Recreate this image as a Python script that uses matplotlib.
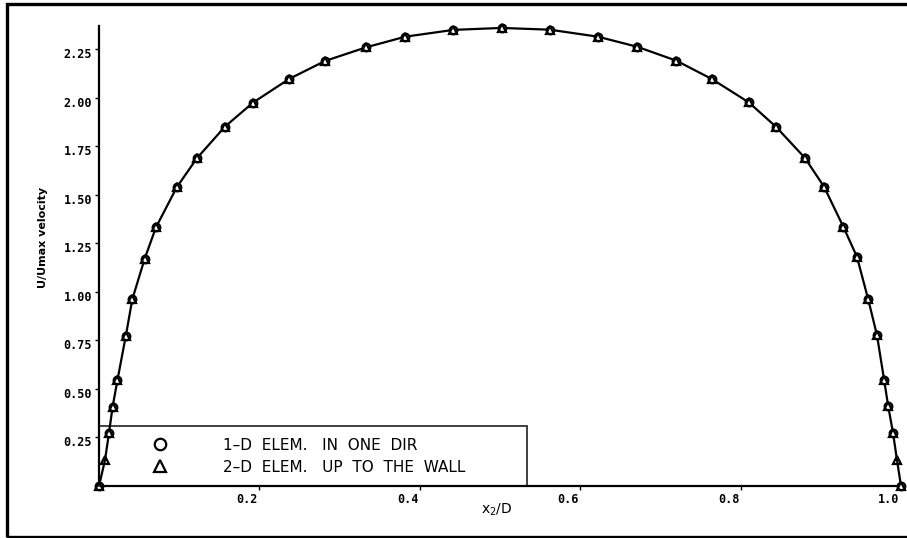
import matplotlib
matplotlib.use("Agg")
import matplotlib.pyplot as plt
import matplotlib.transforms as mtransforms
from matplotlib.patches import Rectangle

# velocity profile (x2/D, U/Umax)
x_tri = [0.0, 0.0075, 0.0125, 0.017, 0.023, 0.0335, 0.0415, 0.057, 0.071,
         0.097, 0.122, 0.157, 0.192, 0.237, 0.282, 0.333, 0.382, 0.442,
         0.502, 0.562, 0.622, 0.671, 0.720, 0.764, 0.810, 0.844, 0.880,
         0.904, 0.928, 0.945, 0.959, 0.970, 0.979, 0.984, 0.990, 0.995, 1.0]
u_tri = [0.0, 0.134, 0.275, 0.409, 0.546, 0.775, 0.962, 1.172, 1.333,
         1.540, 1.689, 1.852, 1.976, 2.098, 2.191, 2.261, 2.316, 2.351,
         2.361, 2.352, 2.316, 2.264, 2.192, 2.098, 1.978, 1.852, 1.692,
         1.543, 1.337, 1.182, 0.964, 0.778, 0.546, 0.412, 0.275, 0.134, 0.0]

# 1-D elements: same nodes without the two closest to the walls
x_circ = [x for i, x in enumerate(x_tri) if i not in (1, len(x_tri) - 2)]
u_circ = [u for i, u in enumerate(u_tri) if i not in (1, len(u_tri) - 2)]

x_ticks = [0.2, 0.4, 0.6, 0.8, 1.0]
x_ticklabels = ["0.2", "0.4", "0.6", "0.8", "1.0"]
y_ticks = [0.25, 0.50, 0.75, 1.00, 1.25, 1.50, 1.75, 2.00, 2.25]
y_ticklabels = ["0.25", "0.50", "0.75", "1.00", "1.25", "1.50", "1.75", "2.00", "2.25"]

label_circ = "1\u2013D  ELEM.   IN  ONE  DIR"
label_tri = "2\u2013D  ELEM.   UP  TO  THE  WALL"

fig = plt.figure(figsize=(9.07, 5.38), dpi=100)
fig.patch.set_facecolor("white")
ax = fig.add_axes([99 / 907, 52 / 538, 802 / 907, 460 / 538])

ax.plot(x_tri, u_tri, color="black", lw=1.6, zorder=2, clip_on=False)
ax.plot(x_circ, u_circ, ls="none", marker="o", ms=5.5, mfc="white",
        mec="black", mew=1.6, label=label_circ, zorder=3, clip_on=False)
ax.plot(x_tri, u_tri, ls="none", marker="^", ms=5.5, mfc="none",
        mec="black", mew=1.6, label=label_tri, zorder=4, clip_on=False)

ax.set_xlim(0, 1.0)
ax.set_ylim(0, 2.371)
for side in ["top", "right"]:
    ax.spines[side].set_visible(False)
for side in ["left", "bottom"]:
    ax.spines[side].set_linewidth(1.6)

ax.set_xticks(x_ticks)
ax.set_xticklabels(x_ticklabels, family="DejaVu Sans Mono", weight="bold", fontsize=8.5)
ax.set_yticks(y_ticks)
ax.set_yticklabels(y_ticklabels, family="DejaVu Sans Mono", weight="bold", fontsize=8.5)
ax.tick_params(axis="both", direction="out", length=3, width=1, pad=2)

# the old plotter puts x labels a little left of their ticks
offset = mtransforms.ScaledTranslation(-0.12, 0, fig.dpi_scale_trans)
for lab in ax.get_xticklabels():
    lab.set_transform(lab.get_transform() + offset)
offset_y = mtransforms.ScaledTranslation(0, -0.04, fig.dpi_scale_trans)
for lab in ax.get_yticklabels():
    lab.set_transform(lab.get_transform() + offset_y)

ax.set_ylabel("U/Umax velocity", fontsize=8, weight="bold")
ax.yaxis.set_label_coords(-0.064, 0.541)
ax.set_xlabel("x$_2$/D", fontsize=10)
ax.xaxis.set_label_coords(0.496, -0.035)

leg = ax.legend(loc="lower left", bbox_to_anchor=(0, 0, 0.534, 0.309),
                mode="expand", borderaxespad=0, fancybox=False,
                edgecolor="black", facecolor="none", fontsize=11,
                borderpad=0.75, handlelength=6.5, handletextpad=0.85,
                labelspacing=0.45, markerscale=1.5)
leg.get_frame().set_linewidth(1.3)

# scanned page frame
fig.patches.append(Rectangle((7 / 907, 1 / 538), 1.2, 533 / 538,
                             transform=fig.transFigure, fill=False,
                             edgecolor="black", lw=2.4))

plt.savefig("out.png", dpi=100)
